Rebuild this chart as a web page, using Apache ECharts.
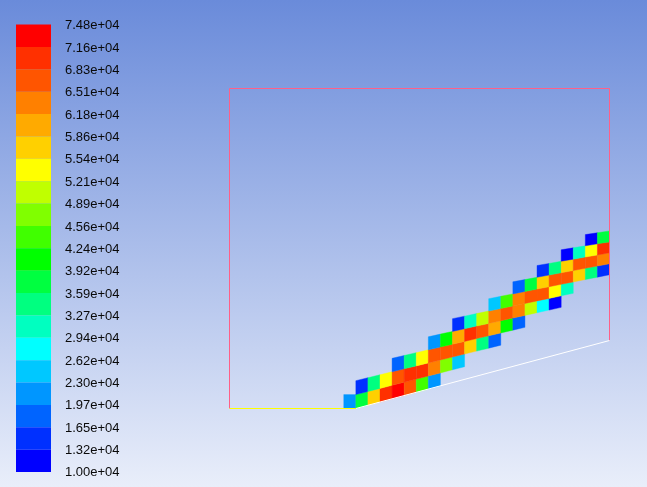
<!DOCTYPE html>
<html>
<head>
<meta charset="utf-8">
<style>html,body{margin:0;padding:0;background:#fff}#c{width:647px;height:487px}</style>
<script src="https://cdn.jsdelivr.net/npm/echarts@6/dist/echarts.min.js"></script>
</head>
<body>
<div id="c"></div>
<script>
// Contour levels, top of the colour bar first
var levelLabels = ['7.48e+04','7.16e+04','6.83e+04','6.51e+04','6.18e+04','5.86e+04','5.54e+04',
  '5.21e+04','4.89e+04','4.56e+04','4.24e+04','3.92e+04','3.59e+04','3.27e+04','2.94e+04',
  '2.62e+04','2.30e+04','1.97e+04','1.65e+04','1.32e+04','1.00e+04'];
// One colour per band between two neighbouring levels, top first
var bandColors = ['#ff0000','#ff3000','#ff5500','#ff8000','#ffaa00','#ffd000','#ffff00','#c0ff00',
  '#80ff00','#40ff00','#00ff00','#00ff40','#00ff80','#00ffc0','#00ffff','#00c8ff','#0096ff',
  '#0064ff','#0030ff','#0000ff'];

// Mesh: first occupied row of each column
var columnStartRow = [0,0,0,0,0,0,0,0,1,1,2,2,2,3,3,4,4,4,5,6,6,6];
// Cell values (x 1e4) of each column, bottom row first
var columnValues = [
  [2.14],
  [3.76,1.49],
  [5.70,3.43],
  [6.99,5.38],
  [7.32,6.67,1.81],
  [6.67,6.99,3.43],
  [4.40,6.99,5.38],
  [2.14,6.35,6.67,2.14],
  [4.73,6.67,4.08],
  [2.46,6.67,6.02,1.49],
  [5.70,6.99,3.11],
  [3.43,6.67,5.05],
  [1.81,6.02,6.35,2.46],
  [4.08,6.67,4.40],
  [1.81,6.35,6.35,1.81],
  [5.05,6.67,3.76],
  [2.78,6.67,5.70,1.49],
  [1.16,5.38,6.67,3.43],
  [3.11,6.67,5.70,1.16],
  [5.70,6.67,3.11],
  [3.43,6.67,5.38,1.16],
  [1.49,6.35,6.99,3.76]
];
var rowCount = 23;
var columnCount = 22;

// Outline of the domain in mesh units [column, height fraction]
var sideOutline = [[-9.46,0],[-9.46,1],[22,1],[22,0.2125]];
var inletLine = [[-9.46,0],[1,0]];
var wallLine = [[1,0],[22,0.2125]];

function baseFraction(col){ return Math.max(0,(col-1)/(columnCount-1))*0.2125; }
function rowY(col,row){ var b=baseFraction(col); return b+(1-b)*row/rowCount; }
function colorOf(v){
  var levels = levelLabels.map(parseFloat);
  var x = v*1e4;
  for (var k=0;k<bandColors.length;k++){ if (x<=levels[k] && x>=levels[k+1]) return bandColors[k]; }
  return bandColors[bandColors.length-1];
}

var cells = [];
columnValues.forEach(function(vals,c){
  vals.forEach(function(v,k){ cells.push([c,columnStartRow[c]+k,v]); });
});
var bands = bandColors.map(function(col,i){ return [i]; });

var chart = echarts.init(document.getElementById('c'),null,{renderer:'canvas'});
chart.setOption({
  animation:false,
  backgroundColor:{type:'linear',x:0,y:0,x2:0,y2:1,colorStops:[
    {offset:0,color:'#6a8bda'},{offset:1,color:'#e9eefa'}]},
  grid:[
    {left:229.5,top:88.5,width:380,height:320},
    {left:16,top:24.5,width:35,height:447.5},
    {left:16,top:25.8,width:35,height:447}
  ],
  xAxis:[
    {gridIndex:0,type:'value',min:-9.46,max:22,show:false},
    {gridIndex:1,type:'value',min:0,max:1,show:false},
    {gridIndex:2,type:'value',min:0,max:1,show:false}
  ],
  yAxis:[
    {gridIndex:0,type:'value',min:0,max:1,show:false},
    {gridIndex:1,type:'category',inverse:true,boundaryGap:false,data:levelLabels,show:false},
    {gridIndex:2,type:'category',inverse:true,boundaryGap:false,data:levelLabels,
      axisLine:{show:false},axisTick:{show:false},splitLine:{show:false},position:'right',
      axisLabel:{show:true,interval:0,margin:14,color:'#0a0a0a',fontFamily:'Liberation Sans',fontSize:13}}
  ],
  series:[
    {type:'custom',xAxisIndex:1,yAxisIndex:1,data:bands,silent:true,clip:false,
      renderItem:function(p,api){
        var i=api.value(0);
        var a=api.coord([0,i]),b=api.coord([1,i+1]);
        return {type:'rect',shape:{x:a[0],y:a[1],width:b[0]-a[0],height:b[1]-a[1]},
          style:{fill:bandColors[i]}};
      }},
    {type:'custom',xAxisIndex:0,yAxisIndex:0,data:cells,silent:true,clip:false,
      renderItem:function(p,api){
        var c=api.value(0),r=api.value(1),col=colorOf(api.value(2));
        var pts=[[c,rowY(c,r)],[c+1,rowY(c+1,r)],[c+1,rowY(c+1,r+1)],[c,rowY(c,r+1)]].map(function(q){return api.coord(q);});
        return {type:'polygon',shape:{points:pts},style:{fill:col,stroke:col,lineWidth:0.4}};
      }},
    {type:'line',xAxisIndex:0,yAxisIndex:0,data:sideOutline,symbol:'none',silent:true,clip:false,
      lineStyle:{color:'#ff6088',width:1}},
    {type:'line',xAxisIndex:0,yAxisIndex:0,data:inletLine,symbol:'none',silent:true,clip:false,
      lineStyle:{color:'#ffff00',width:1}},
    {type:'line',xAxisIndex:0,yAxisIndex:0,data:wallLine,symbol:'none',silent:true,clip:false,
      lineStyle:{color:'#ffffff',width:1}}
  ]
});
</script>
</body>
</html>
